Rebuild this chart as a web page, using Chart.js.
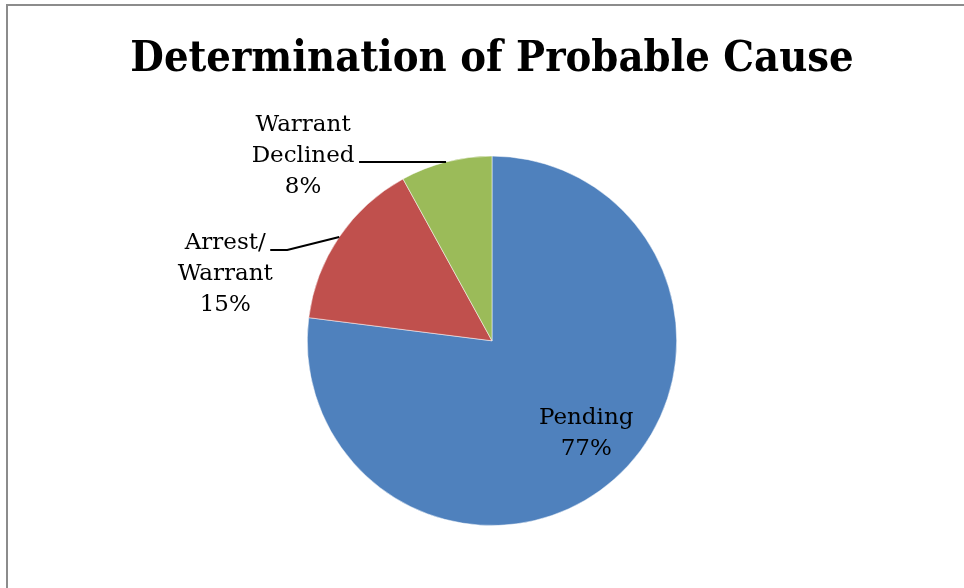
<!DOCTYPE html>
<html><head><meta charset="utf-8">
<script src="https://cdn.jsdelivr.net/npm/chart.js@4/dist/chart.umd.min.js"></script>
<style>html,body{margin:0;padding:0;background:#fff}#wrap{position:absolute;left:0;top:0;width:964px;height:588px}</style>
</head><body><div id="wrap"><canvas id="c" width="964" height="588"></canvas></div>
<script>
const titleText = "Determination of Probable Cause";
const categories = ["Pending", "Arrest/Warrant", "Warrant Declined"];
const labelLines = [["Pending"], ["Arrest/", "Warrant"], ["Warrant", "Declined"]];
const values = [77, 15, 8];
const colors = ["#4F81BD", "#C0504D", "#9BBB59"];

// label placement styles (offsets relative to the slice geometry)
const labelStyle = [
  { inside: true, dx: 0.51, dy: 0.49 },                       // fractions of radius from centre
  { inside: false, elbow: [-52, 13], end: [-69, 13], cx: -114, firstBase: 12 },
  { inside: false, elbow: [-87, 0], end: [-87, 0], cx: -143, firstBase: -31 }
];

const frame = {
  id: 'frame',
  beforeDraw(chart) {
    const ctx = chart.ctx;
    ctx.save();
    ctx.strokeStyle = '#8c8c8c';
    ctx.lineWidth = 2;
    ctx.beginPath();
    ctx.moveTo(7, 588); ctx.lineTo(7, 5); ctx.lineTo(964, 5);
    ctx.stroke();
    ctx.restore();
  }
};

const sliceLabels = {
  id: 'sliceLabels',
  afterDatasetsDraw(chart) {
    const ctx = chart.ctx;
    const meta = chart.getDatasetMeta(0);
    const total = values.reduce((a, b) => a + b, 0);
    ctx.save();
    ctx.font = "23px 'DejaVu Serif'";
    ctx.fillStyle = '#000';
    ctx.textAlign = 'center';
    ctx.textBaseline = 'alphabetic';
    meta.data.forEach((arc, i) => {
      const p = arc.getProps(['x', 'y', 'startAngle', 'endAngle', 'outerRadius'], true);
      const mid = (p.startAngle + p.endAngle) / 2;
      const R = p.outerRadius;
      const pct = Math.round(values[i] / total * 100) + '%';
      const lines = labelLines[i].concat([pct]);
      const st = labelStyle[i];
      if (st.inside) {
        const cx = p.x + st.dx * R, cy = p.y + st.dy * R;
        const lh = 31;
        const first = cy - lh * (lines.length - 1) / 2 + 8;
        lines.forEach((t, k) => ctx.fillText(t, cx, first + k * lh));
      } else {
        const ex = p.x + Math.cos(mid) * R, ey = p.y + Math.sin(mid) * R;
        ctx.strokeStyle = '#000';
        ctx.lineWidth = 2;
        ctx.beginPath();
        ctx.moveTo(ex, ey);
        ctx.lineTo(ex + st.elbow[0], ey + st.elbow[1]);
        ctx.lineTo(ex + st.end[0], ey + st.end[1]);
        ctx.stroke();
        const cx = ex + st.cx;
        lines.forEach((t, k) => ctx.fillText(t, cx, ey + st.firstBase + k * 31));
      }
    });
    ctx.restore();
  }
};

new Chart(document.getElementById('c'), {
  type: 'pie',
  data: { labels: categories, datasets: [{ data: values, backgroundColor: colors, borderColor: 'rgba(255,255,255,0.5)', borderWidth: 1 }] },
  options: {
    responsive: false, animation: false,
    layout: { padding: { top: 0, bottom: 62, left: 20, right: 0 } },
    plugins: {
      legend: { display: false }, tooltip: { enabled: false },
      title: {
        display: true, text: titleText, color: '#000',
        font: { family: "'DejaVu Serif Condensed'", size: 43, weight: 'bold', lineHeight: 1.2 },
        padding: { top: 34, bottom: 70 }
      }
    }
  },
  plugins: [frame, sliceLabels]
});
</script></body></html>
